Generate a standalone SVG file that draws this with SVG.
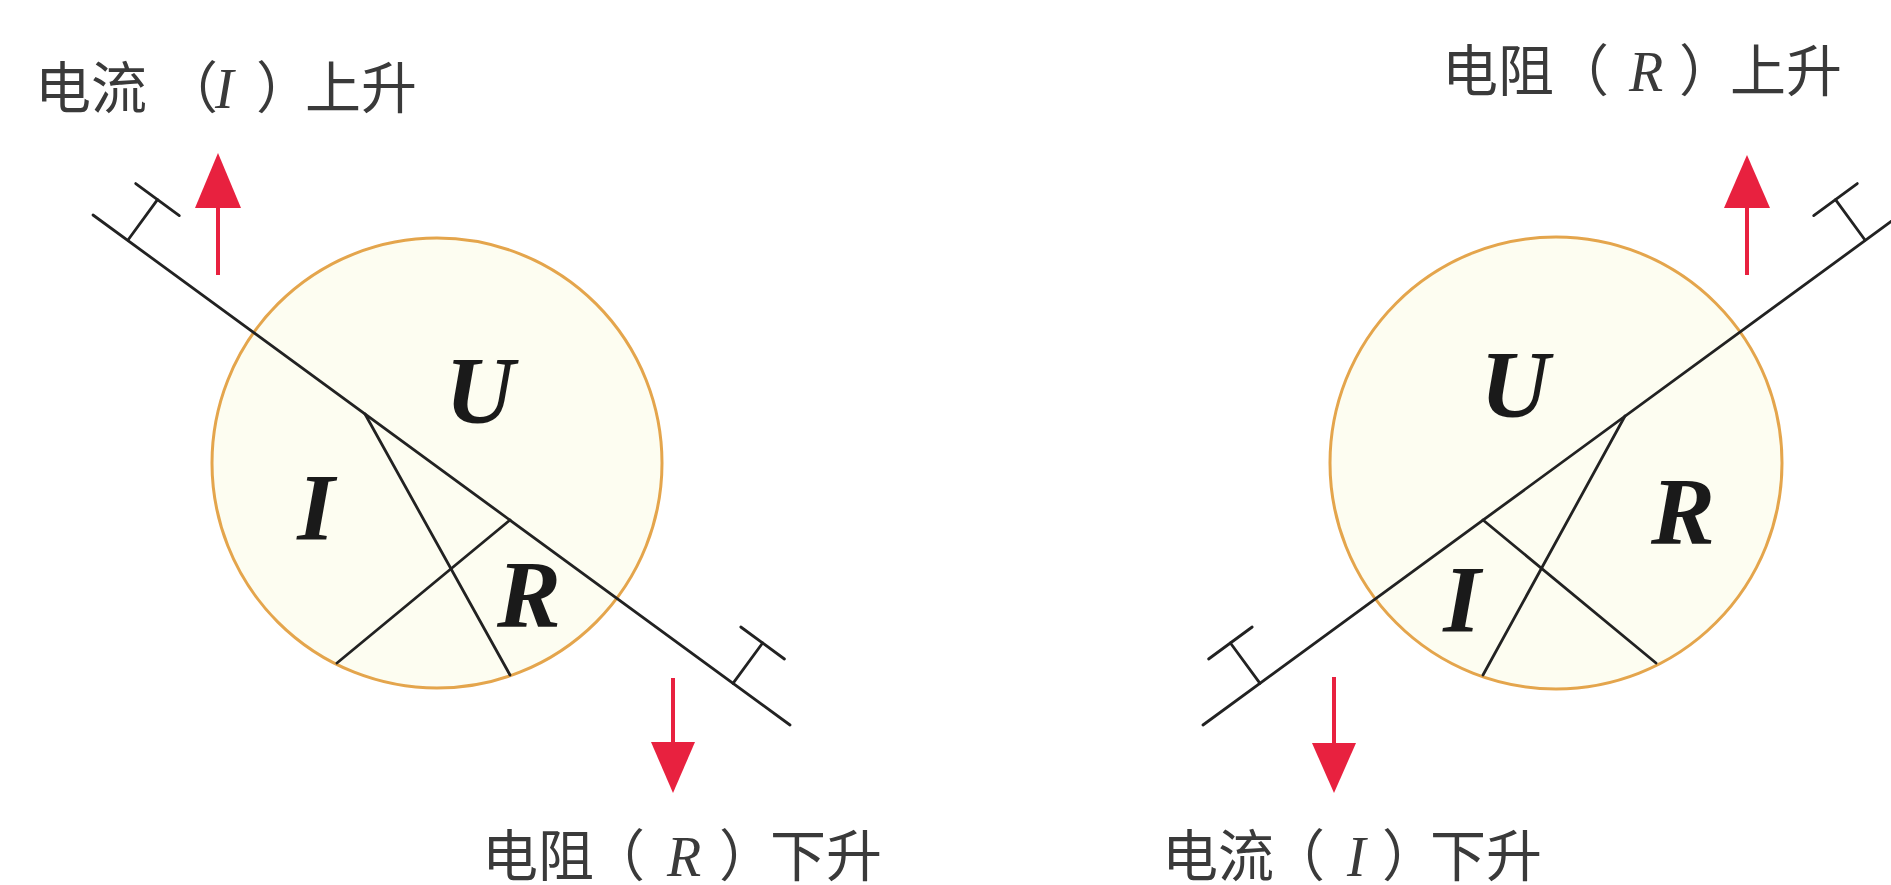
<svg xmlns="http://www.w3.org/2000/svg" width="1891" height="885" viewBox="0 0 1891 885">
  <defs>
    <style>
      .circ { fill: #fdfdf1; stroke: #e4a54c; stroke-width: 3; }
      .ln { stroke: #222; stroke-width: 2.8; fill: none; stroke-linecap: round; }
      .shaft { stroke: #e8213f; stroke-width: 4; fill: none; }
      .head { fill: #e8213f; }
      .big { font-family: "Liberation Serif", "Times New Roman", serif; font-weight: bold; font-style: italic; font-size: 96px; fill: #1a1a1a; text-anchor: middle; }
      .lab { font-family: "Noto Sans CJK SC", "Noto Sans", sans-serif; font-size: 56px; fill: #3a3a3a; }
      .it { font-family: "Liberation Serif", "Times New Roman", serif; font-style: italic; }
    </style>
  </defs>
  <rect x="0" y="0" width="1891" height="885" fill="#ffffff"/>

  <g id="left-circle">
    <circle class="circ" cx="437" cy="463" r="225"/>
  </g>
  <g id="right-circle">
    <circle class="circ" cx="1556" cy="463" r="226"/>
  </g>

  <g id="connectors">
    <!-- left main line and rulers -->
    <line class="ln" x1="93" y1="215" x2="790" y2="725"/>
    <line class="ln" x1="128" y1="240" x2="157.5" y2="199.6"/>
    <line class="ln" x1="135.7" y1="183.6" x2="179.3" y2="215.6"/>
    <line class="ln" x1="733" y1="683.3" x2="762.6" y2="643"/>
    <line class="ln" x1="740.8" y1="627" x2="784.4" y2="659"/>
    <!-- left inner lines -->
    <line class="ln" x1="365" y1="414" x2="510" y2="675"/>
    <line class="ln" x1="510" y1="520" x2="337" y2="663"/>

    <!-- right main line and rulers -->
    <line class="ln" x1="1900" y1="215" x2="1203" y2="725"/>
    <line class="ln" x1="1865" y1="240" x2="1835.5" y2="199.6"/>
    <line class="ln" x1="1857.3" y1="183.6" x2="1813.7" y2="215.6"/>
    <line class="ln" x1="1260" y1="683.3" x2="1230.4" y2="643"/>
    <line class="ln" x1="1252.2" y1="627" x2="1208.6" y2="659"/>
    <!-- right inner lines -->
    <line class="ln" x1="1625" y1="416" x2="1483" y2="675"/>
    <line class="ln" x1="1483" y1="520" x2="1656" y2="663"/>
  </g>

  <g id="arrows">
    <line class="shaft" x1="218" y1="275" x2="218" y2="205"/>
    <polygon class="head" points="218,153 195,208 241,208"/>
    <line class="shaft" x1="673" y1="678" x2="673" y2="745"/>
    <polygon class="head" points="673,793 651,742 695,742"/>
    <line class="shaft" x1="1747" y1="275" x2="1747" y2="205"/>
    <polygon class="head" points="1747,155 1724,208 1770,208"/>
    <line class="shaft" x1="1334" y1="677" x2="1334" y2="745"/>
    <polygon class="head" points="1334,793 1312,743 1356,743"/>
  </g>

  <g id="left-letters">
    <text class="big" x="480" y="423">U</text>
    <text class="big" x="316" y="540">I</text>
    <text class="big" x="529" y="627">R</text>
  </g>
  <g id="right-letters">
    <text class="big" x="1515" y="417">U</text>
    <text class="big" x="1462" y="632">I</text>
    <text class="big" x="1683" y="544">R</text>
  </g>

  <g id="label-current-up">
    <text class="lab" y="108"><tspan x="35">电流</tspan><tspan x="162">（</tspan><tspan x="215" class="it">I</tspan><tspan x="256">）</tspan><tspan x="305">上升</tspan></text>
  </g>
  <g id="label-resistance-down">
    <text class="lab" y="876"><tspan x="482">电阻</tspan><tspan x="589">（</tspan><tspan x="667" class="it">R</tspan><tspan x="719">）</tspan><tspan x="770">下升</tspan></text>
  </g>
  <g id="label-current-down">
    <text class="lab" y="876"><tspan x="1162">电流</tspan><tspan x="1269">（</tspan><tspan x="1347" class="it">I</tspan><tspan x="1382">）</tspan><tspan x="1430">下升</tspan></text>
  </g>
  <g id="label-resistance-up">
    <text class="lab" y="91"><tspan x="1442">电阻</tspan><tspan x="1553">（</tspan><tspan x="1629" class="it">R</tspan><tspan x="1679">）</tspan><tspan x="1730">上升</tspan></text>
  </g>
</svg>
